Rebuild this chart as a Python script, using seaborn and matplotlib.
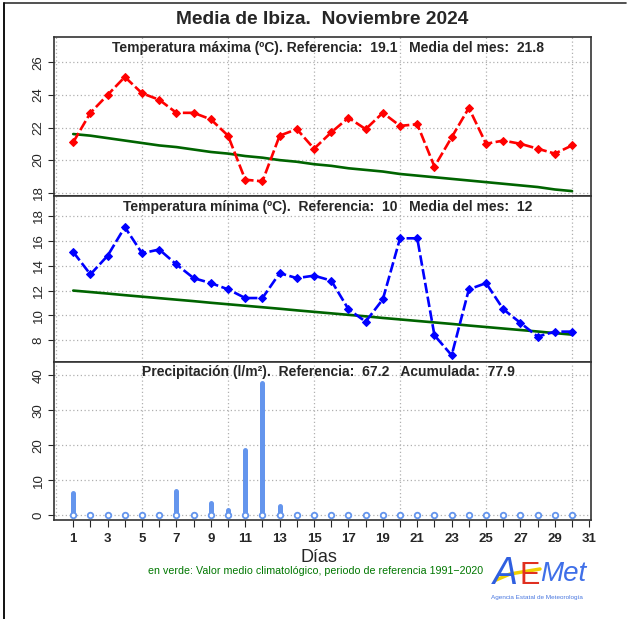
import numpy as np
import matplotlib
matplotlib.use('Agg')
import matplotlib.pyplot as plt
from matplotlib.lines import Line2D
import seaborn as sns

# Daily values (Ibiza, November 2024)
days = list(range(1, 31))
tmax = [21.1, 22.9, 24.0, 25.1, 24.1, 23.7, 22.9, 22.9, 22.5, 21.5,
        18.8, 18.7, 21.5, 21.9, 20.7, 21.7, 22.6, 21.9, 22.9, 22.1,
        22.2, 19.6, 21.4, 23.2, 21.0, 21.2, 21.0, 20.7, 20.4, 20.9]
tmax_ref = [21.6, 21.5, 21.35, 21.2, 21.05, 20.9, 20.8, 20.65, 20.5, 20.4,
            20.25, 20.15, 20.0, 19.9, 19.75, 19.65, 19.5, 19.4, 19.3, 19.15,
            19.05, 18.95, 18.85, 18.75, 18.65, 18.55, 18.45, 18.35, 18.2, 18.1]
tmin = [15.1, 13.3, 14.8, 17.1, 15.0, 15.3, 14.1, 13.0, 12.6, 12.1,
        11.4, 11.4, 13.4, 13.0, 13.2, 12.8, 10.5, 9.5, 11.3, 16.2,
        16.2, 8.4, 6.8, 12.1, 12.6, 10.5, 9.4, 8.3, 8.7, 8.7]
tmin_ref = [12.0, 11.88, 11.76, 11.63, 11.51, 11.39, 11.27, 11.15, 11.02, 10.9,
            10.78, 10.66, 10.54, 10.41, 10.29, 10.17, 10.05, 9.93, 9.8, 9.68,
            9.56, 9.44, 9.32, 9.19, 9.07, 8.95, 8.83, 8.71, 8.58, 8.46]
prec = [6.3, 0, 0, 0, 0, 0.2, 7.0, 0.4, 3.5, 1.3,
        18.6, 37.9, 2.7, 0, 0, 0, 0, 0, 0, 0,
        0, 0, 0, 0, 0, 0, 0, 0, 0, 0]

titles = ['Temperatura máxima (ºC). Referencia:  19.1   Media del mes:  21.8',
          'Temperatura mínima (ºC).  Referencia:  10   Media del mes:  12',
          'Precipitación (l/m²).  Referencia:  67.2   Acumulada:  77.9']

sns.set_style('white')
plt.rcParams['font.family'] = ['Liberation Sans', 'DejaVu Sans']

W, H = 634, 619
fig = plt.figure(figsize=(W / 100, H / 100), dpi=100)


def px_axes(left, top, right, bottom):
    return fig.add_axes([left / W, 1 - bottom / H, (right - left) / W, (bottom - top) / H])


ax1 = px_axes(54.3, 37, 591, 196)
ax2 = px_axes(54.3, 196, 591, 361.5)
ax3 = px_axes(54.3, 361.5, 591, 520)

grid_kw = dict(color='#b0b0b0', linestyle=(0, (1, 2)), linewidth=0.9)

# Temperatura máxima
sns.lineplot(x=days, y=tmax_ref, color='#006400', linewidth=1.9, ax=ax1)
sns.lineplot(x=days, y=tmax, color='red', linewidth=1.9, marker='D', markersize=4.2,
             markeredgecolor='red', linestyle=(0, (4, 1.3)), ax=ax1)
ax1.set_ylim(17.8, 27.55)
ax1.set_yticks([18, 20, 22, 24, 26])

# Temperatura mínima
sns.lineplot(x=days, y=tmin_ref, color='#006400', linewidth=1.9, ax=ax2)
sns.lineplot(x=days, y=tmin, color='blue', linewidth=1.9, marker='D', markersize=4.2,
             markeredgecolor='blue', linestyle=(0, (4, 1.3)), ax=ax2)
ax2.set_ylim(6.3, 19.6)
ax2.set_yticks([8, 10, 12, 14, 16, 18])

# Precipitación
ax3.vlines(days, 0, prec, color='#6495ED', linewidth=3.6, capstyle='round', zorder=3)
sns.scatterplot(x=days, y=[0] * len(days), marker='o', s=16, facecolor='white',
                edgecolor='#6495ED', linewidth=1.3, zorder=4, ax=ax3)
ax3.set_ylim(-1.43, 44)
ax3.set_yticks([0, 10, 20, 30, 40])

for ax, title in zip([ax1, ax2, ax3], titles):
    ax.set_xlim(-0.1, 31.1)
    for v in range(0, 31, 5):
        ax.axvline(v, zorder=0, **grid_kw)
    for v in ax.get_yticks():
        ax.axhline(v, zorder=0, **grid_kw)
    for s in ax.spines.values():
        s.set_visible(True)
        s.set_color('#333333')
        s.set_linewidth(1.2)
    ax.set_xlabel('')
    ax.set_ylabel('')
    ax.tick_params(axis='y', labelsize=9.5, length=4, width=0.8, direction='out',
                   left=True, pad=3)
    plt.setp(ax.get_yticklabels(), rotation=90, va='center')
    ax.text(0.51, 0.975, title, transform=ax.transAxes, ha='center', va='top',
            fontsize=10, fontweight='bold')

for ax in [ax1, ax2]:
    ax.set_xticks([])

ax3.set_xticks(range(1, 32))
ax3.set_xticklabels([str(d) if d % 2 == 1 else '' for d in range(1, 32)],
                    fontsize=9.5, fontweight='bold')
ax3.tick_params(axis='x', length=5, width=0.8, direction='out', bottom=True, pad=4)

fig.text(322 / W, 1 - 19 / H, 'Media de Ibiza.  Noviembre 2024', ha='center',
         va='center', fontsize=13.8, fontweight='bold')
fig.text(319 / W, 1 - 558 / H, 'Días', ha='center', va='center', fontsize=13)
fig.text(316 / W, 1 - 571.5 / H,
         'en verde: Valor medio climatológico, periodo de referencia 1991\u22122020',
         ha='center', va='center', fontsize=7.7, color='#007700')

# AEMET logo as text
fig.text(505 / W, 1 - 574 / H, 'A', ha='center', va='center', fontsize=27,
         color='#2f5fe0', style='italic')
fig.add_artist(Line2D([496 / W, 510 / W, 540 / W], [1 - 580 / H, 1 - 574 / H, 1 - 569 / H],
                      color='#f0d000', linewidth=2.5, solid_capstyle='round',
                      transform=fig.transFigure))
fig.text(530 / W, 1 - 576 / H, 'E', ha='center', va='center', fontsize=22,
         color='#e03020')
fig.text(563 / W, 1 - 574 / H, 'Met', ha='center', va='center', fontsize=20,
         color='#3f6fe8', style='italic')
fig.text(537 / W, 1 - 597 / H, 'Agencia Estatal de Meteorología', ha='center',
         va='center', fontsize=4.6, color='#4a78e0')

# outer frame lines (top and left)
fig.add_artist(Line2D([4 / W, 626 / W], [1 - 3 / H, 1 - 3 / H], color='#333333',
                      linewidth=1.2, transform=fig.transFigure))
fig.add_artist(Line2D([4 / W, 4 / W], [1 - 3 / H, 0], color='#111111',
                      linewidth=1.4, transform=fig.transFigure))

fig.savefig('out.png', dpi=100)
